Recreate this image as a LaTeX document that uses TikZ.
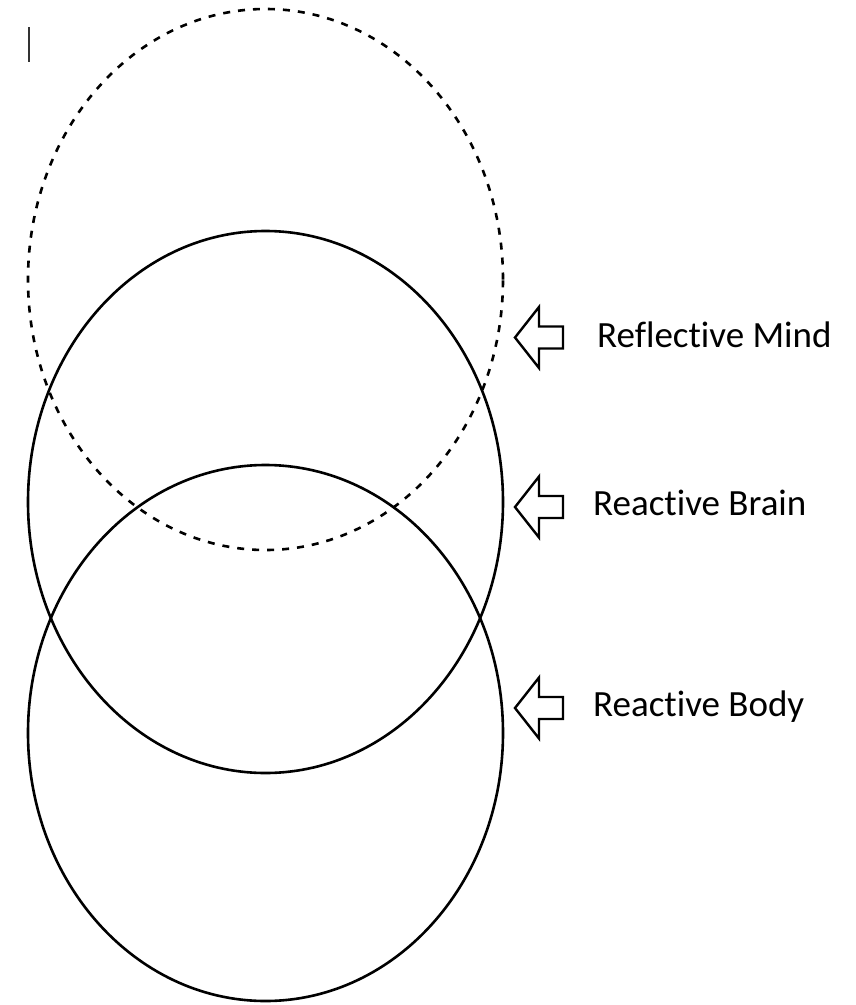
\documentclass[tikz,border=0pt]{standalone}
\usepackage{fontspec}
\setmainfont{Carlito}[Ligatures=NoCommon]
\usetikzlibrary{shapes.geometric}
\tikzset{
  ring/.style={draw, ellipse, line width=2.6pt, inner sep=0pt,
    minimum width=475pt},
  hollowarrow/.style={line width=2.4pt, line join=miter},
  label/.style={anchor=base west, inner sep=0pt, font=\fontsize{37}{44}\selectfont}
}

\begin{document}
\begin{tikzpicture}[x=1pt, y=-1pt]
    \useasboundingbox (0,0) rectangle (856,1005);
    % text cursor mark
    \coordinate (cursortop) at (29,27);
    \coordinate (cursorbot) at (29,62);
    \draw [line width=1.6pt, black!80] (cursortop) -- (cursorbot);
    % the three layers
    \node (mind)[ring, dashed, dash pattern=on 7pt off 8pt,
        minimum height=541pt] at (265.5,279.5) {};
    \node (brain)[ring,
        minimum height=542pt] at (265.5,502) {};
    \node (body)[ring,
        minimum height=536pt] at (265.5,733) {};
    % labels
    \node (mindtext)[label] at (597,347) {Reflective Mind};
    \node (braintext)[label] at (593,515) {Reactive Brain};
    \node (bodytext)[label] at (593,716) {Reactive Body};
    % hollow arrows pointing at the layers
    \foreach \ypos in {337.5, 507, 708} {
        \draw [hollowarrow] (515,\ypos) -- (539,\ypos-30.5) -- (539,\ypos-11)
            -- (563,\ypos-11) -- (563,\ypos+11) -- (539,\ypos+11)
            -- (539,\ypos+30.5) -- cycle;
    }
\end{tikzpicture}
\end{document}
